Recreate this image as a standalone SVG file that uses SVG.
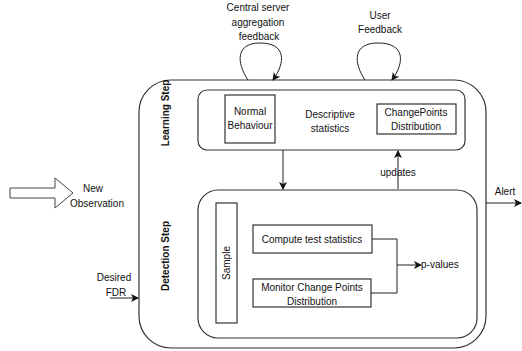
<svg xmlns="http://www.w3.org/2000/svg" width="522" height="351" viewBox="0 0 522 351">
<defs>
<style>
text{font-family:"Liberation Sans",Arial,sans-serif;font-size:10px;fill:#111}
.b{font-weight:bold}
.box{fill:none;stroke:#333;stroke-width:1.2}
.ln{fill:none;stroke:#222;stroke-width:1}
</style>
<marker id="ah" markerWidth="8" markerHeight="8" refX="7" refY="4" orient="auto" markerUnits="userSpaceOnUse">
<path d="M0,0 L8,4 L0,8 L2,4 Z" fill="#111"/>
</marker>
</defs>
<rect width="522" height="351" fill="#fff"/>
<g id="outer">
<rect class="box" x="139" y="80" width="347" height="268" rx="32" ry="32"/>
<text class="b" transform="translate(169,113) rotate(-90)" text-anchor="middle">Learning Step</text>
<text class="b" transform="translate(169,256) rotate(-90)" text-anchor="middle">Detection Step</text>
</g>
<g id="learning">
<rect class="box" x="198" y="90" width="267" height="60" rx="9" ry="9"/>
<text x="330" y="118" text-anchor="middle">Descriptive</text>
<text x="330" y="132" text-anchor="middle">statistics</text>
</g>
<g id="normal">
<rect class="box" x="225" y="95" width="50" height="48"/>
<text x="250" y="115" text-anchor="middle">Normal</text>
<text x="250" y="129" text-anchor="middle">Behaviour</text>
</g>
<g id="changepoints">
<rect class="box" x="377" y="104" width="79" height="30"/>
<text x="416" y="116" text-anchor="middle">ChangePoints</text>
<text x="416" y="130" text-anchor="middle">Distribution</text>
</g>
<g id="detection">
<rect class="box" x="198" y="190" width="279" height="148" rx="20" ry="20"/>
</g>
<g id="sample">
<rect class="box" x="216" y="203" width="21" height="120"/>
<text transform="translate(230,263) rotate(-90)" text-anchor="middle">Sample</text>
</g>
<g id="compute">
<rect class="box" x="253" y="225" width="119" height="28"/>
<text x="312" y="243" text-anchor="middle">Compute test statistics</text>
</g>
<g id="monitor">
<rect class="box" x="253" y="279" width="118" height="28"/>
<text x="312" y="291" text-anchor="middle">Monitor Change Points</text>
<text x="312" y="305" text-anchor="middle">Distribution</text>
</g>
<g id="newobs">
<path d="M10,188 L55,188 L55,178 L73,193 L55,208 L55,198 L10,198 Z" fill="#fff" stroke="#444" stroke-width="1"/>
<text x="93" y="192" text-anchor="middle">New</text>
<text x="97" y="207" text-anchor="middle">Observation</text>
</g>
<g id="labels">
<text x="258" y="11" text-anchor="middle">Central server</text>
<text x="258" y="26" text-anchor="middle">aggregation</text>
<text x="259" y="40" text-anchor="middle">feedback</text>
<text x="380" y="19" text-anchor="middle">User</text>
<text x="380" y="33" text-anchor="middle">Feedback</text>
<text x="114" y="281" text-anchor="middle">Desired</text>
<text x="116" y="296" text-anchor="middle">FDR</text>
<text x="505" y="195" text-anchor="middle">Alert</text>
<text x="398" y="176" text-anchor="middle">updates</text>
<text x="421" y="268">p-values</text>
</g>
<g id="connectors">
<path class="ln" d="M248,80 C236,62 236,43 260,43 C286,43 286,62 273,80" marker-end="url(#ah)"/>
<path class="ln" d="M365,80 C353,62 353,43 378,43 C405,43 405,62 392,80" marker-end="url(#ah)"/>
<path class="ln" d="M283,150 L283,189" marker-end="url(#ah)"/>
<path class="ln" d="M398,189 L398,151" marker-end="url(#ah)"/>
<path class="ln" d="M372,239 L397,239 L397,293 L371,293"/>
<path class="ln" d="M397,265 L421,265" marker-end="url(#ah)"/>
<path class="ln" d="M486,203 L521,203" marker-end="url(#ah)"/>
<path class="ln" d="M110,298 L138,298" marker-end="url(#ah)"/>
</g>
</svg>
